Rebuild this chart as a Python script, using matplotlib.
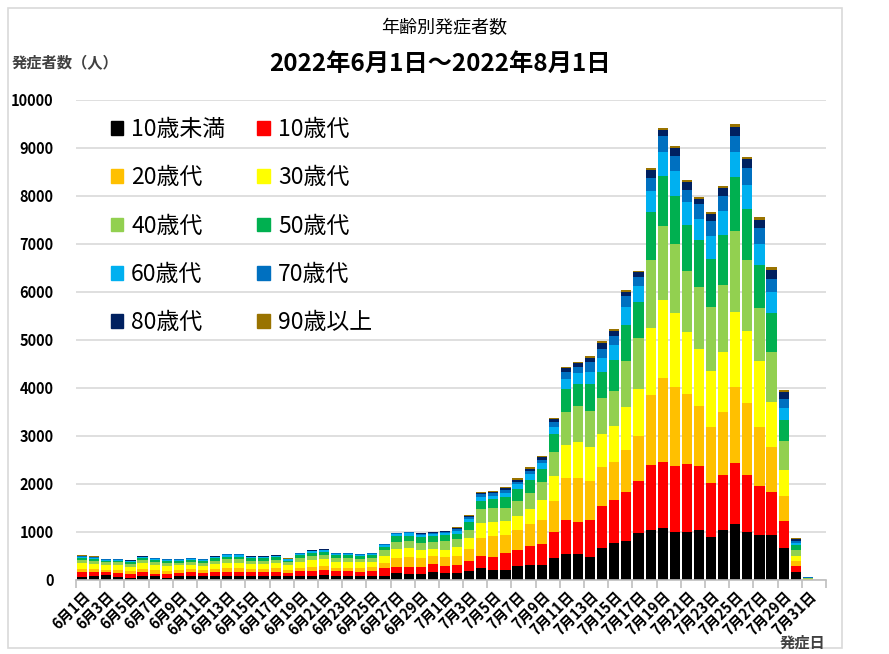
import numpy as np
import matplotlib
matplotlib.use('Agg')
import matplotlib.pyplot as plt
from matplotlib.patches import Patch, Rectangle

plt.rcParams['font.family'] = ['Noto Sans CJK JP', 'DejaVu Sans']

# categories (6/1 - 8/1)
days = [f"6月{d}日" for d in range(1, 31)] + [f"7月{d}日" for d in range(1, 32)] + ["8月1日"]

labels = ["10歳未満", "10歳代", "20歳代", "30歳代", "40歳代",
          "50歳代", "60歳代", "70歳代", "80歳代", "90歳以上"]
colors = ["#000000", "#FF0000", "#FFC000", "#FFFF00", "#92D050",
          "#00B050", "#00B0F0", "#0070C0", "#002060", "#997300"]

# cases per day
under10 = [70, 75, 95, 65, 45, 80, 75, 50, 80, 85, 75, 80, 85, 90, 80, 75, 80, 75, 85, 90,
           95, 80, 85, 80, 85, 90, 140, 125, 125, 175, 140, 140, 195, 245, 215, 215, 285, 315, 320, 460,
           545, 540, 485, 660, 765, 805, 970, 1040, 1075, 995, 995, 1040, 905, 1040, 1165, 995, 945, 945, 660, 160,
           5, 0]
teens = [90, 85, 65, 80, 80, 85, 55, 80, 70, 75, 70, 85, 90, 85, 85, 90, 90, 75, 95, 105,
         110, 100, 95, 95, 100, 155, 140, 140, 140, 160, 160, 175, 195, 245, 260, 350, 350, 390, 440, 540,
         695, 660, 765, 890, 910, 1035, 1085, 1355, 1390, 1380, 1420, 1330, 1115, 1155, 1275, 1200, 1005, 880, 560, 140,
         5, 0]
twenties = [70, 65, 55, 60, 60, 70, 80, 65, 60, 60, 60, 65, 70, 75, 65, 70, 70, 60, 80, 85,
            90, 80, 80, 75, 80, 110, 180, 210, 195, 175, 175, 195, 260, 390, 435, 380, 400, 455, 480, 645,
            890, 925, 820, 810, 775, 870, 950, 1465, 1745, 1655, 1470, 1265, 1175, 1300, 1590, 1495, 1245, 940, 535, 105,
            5, 0]
thirties = [115, 105, 95, 100, 95, 110, 105, 100, 95, 100, 95, 105, 115, 110, 105, 100, 110, 95, 120, 130,
            135, 120, 125, 115, 120, 135, 190, 190, 170, 140, 160, 175, 230, 315, 300, 280, 295, 310, 420, 515,
            675, 755, 710, 680, 750, 890, 975, 1390, 1630, 1530, 1275, 1180, 1150, 1265, 1560, 1490, 1375, 950, 545, 90,
            5, 0]
forties = [65, 65, 55, 60, 55, 65, 65, 60, 55, 60, 60, 70, 75, 75, 70, 70, 70, 60, 80, 90,
           90, 80, 80, 75, 80, 125, 140, 140, 140, 140, 175, 175, 170, 275, 280, 285, 315, 350, 385, 510,
           700, 750, 750, 745, 745, 970, 1055, 1425, 1540, 1430, 1285, 1285, 1350, 1395, 1690, 1480, 1090, 1040, 605, 120,
           15, 0]
fifties = [45, 45, 35, 35, 35, 40, 40, 40, 40, 40, 40, 45, 50, 50, 45, 45, 50, 40, 55, 60,
           60, 55, 50, 50, 50, 70, 120, 120, 125, 125, 120, 105, 160, 175, 190, 225, 245, 265, 265, 370,
           465, 450, 555, 540, 645, 750, 750, 1000, 1040, 1020, 955, 985, 985, 1030, 1110, 1070, 910, 815, 435, 105,
           10, 0]
sixties = [25, 25, 20, 20, 20, 25, 25, 20, 20, 25, 20, 25, 30, 30, 25, 25, 25, 25, 30, 35,
           35, 30, 30, 30, 30, 35, 40, 45, 45, 45, 50, 65, 70, 90, 75, 85, 105, 125, 120, 155,
           215, 225, 245, 290, 305, 360, 335, 420, 500, 520, 465, 445, 495, 500, 530, 500, 420, 430, 245, 55,
           5, 0]
seventies = [20, 15, 15, 12, 12, 12, 12, 15, 12, 12, 12, 12, 18, 18, 12, 12, 12, 12, 15, 15,
             15, 15, 15, 15, 15, 20, 20, 20, 25, 25, 25, 35, 30, 50, 50, 50, 55, 70, 70, 105,
             155, 140, 210, 195, 195, 230, 185, 280, 320, 300, 270, 300, 300, 310, 340, 345, 345, 275, 190, 45,
             4, 0]
eighties = [10, 5, 5, 5, 5, 5, 5, 7, 5, 5, 5, 5, 8, 8, 5, 5, 5, 5, 7, 7,
            7, 7, 7, 7, 7, 12, 10, 10, 15, 15, 15, 25, 25, 35, 35, 40, 40, 40, 55, 50,
            70, 75, 90, 120, 105, 100, 105, 165, 135, 175, 150, 110, 155, 170, 175, 190, 175, 190, 140, 35,
            3, 0]
over90 = [5, 5, 5, 3, 3, 3, 3, 3, 3, 3, 3, 3, 4, 4, 3, 3, 3, 3, 3, 3,
          3, 3, 3, 3, 3, 8, 5, 5, 5, 5, 10, 15, 15, 20, 20, 20, 25, 30, 35, 30,
          25, 25, 40, 45, 35, 30, 20, 50, 45, 45, 50, 45, 45, 45, 55, 55, 50, 55, 45, 20,
          3, 0]

series = [under10, teens, twenties, thirties, forties,
          fifties, sixties, seventies, eighties, over90]

W, H = 889, 654
fig = plt.figure(figsize=(W / 100, H / 100), dpi=100)
ax = fig.add_axes([76 / W, 1 - 580 / H, 750 / W, 480 / H])

x = np.arange(len(days))
bottom = np.zeros(len(days))
for vals, c, lab in zip(series, colors, labels):
    ax.bar(x, vals, 0.84, bottom=bottom, color=c, edgecolor='none', label=lab, zorder=2)
    bottom += np.array(vals)

ax.set_xlim(-0.5, len(days) - 0.5)
ax.set_ylim(0, 10000)
ax.set_yticks(range(0, 10001, 1000))
ax.yaxis.grid(True, color='#D9D9D9', lw=1.2, zorder=0)
ax.set_axisbelow(True)
for s in ['top', 'right', 'left']:
    ax.spines[s].set_visible(False)
ax.spines['bottom'].set_color('#BFBFBF')
ax.spines['bottom'].set_linewidth(1.2)

ax.tick_params(axis='y', length=0, pad=16)
for t in ax.get_yticklabels():
    t.set_fontsize(10.5)
    t.set_fontweight('bold')

ax.set_xticks(x[::2])
ax.set_xticklabels(days[::2], rotation=45, ha='right', va='top',
                   rotation_mode='anchor', fontsize=10.5, fontweight='bold')
ax.tick_params(axis='x', which='major', length=0, pad=6)
ax.set_xticks(np.arange(-0.5, len(days), 2), minor=True)
ax.tick_params(axis='x', which='minor', length=6, color='#BFBFBF', width=1.2)

handles = [Patch(color=c) for c in colors]
order = [0, 2, 4, 6, 8, 1, 3, 5, 7, 9]
ax.legend([handles[i] for i in order], [labels[i] for i in order], ncol=2,
          loc='upper left', bbox_to_anchor=(0.046, 0.962), frameon=False,
          fontsize=16.5, handlelength=0.55, handleheight=0.55, handletextpad=0.35,
          labelspacing=1.1, columnspacing=1.4, borderpad=0, borderaxespad=0)

fig.text(444 / W, 1 - 28 / H, "年齢別発症者数", ha='center', va='center', fontsize=13)
fig.text(440 / W, 1 - 64 / H, "2022年6月1日～2022年8月1日", ha='center', va='center',
         fontsize=17.5, fontweight='bold')
fig.text(12 / W, 1 - 63 / H, "発症者数（人）", ha='left', va='center',
         fontsize=11, fontweight='bold', color='#404040')
fig.text(825 / W, 1 - 643 / H, "発症日", ha='right', va='center',
         fontsize=11, fontweight='bold', color='#404040')

fig.patches.append(Rectangle((8 / W, 6 / H), 834 / W, 640 / H, transform=fig.transFigure,
                             fill=False, edgecolor='#D9D9D9', lw=1.2))

fig.savefig("out.png", dpi=100)
